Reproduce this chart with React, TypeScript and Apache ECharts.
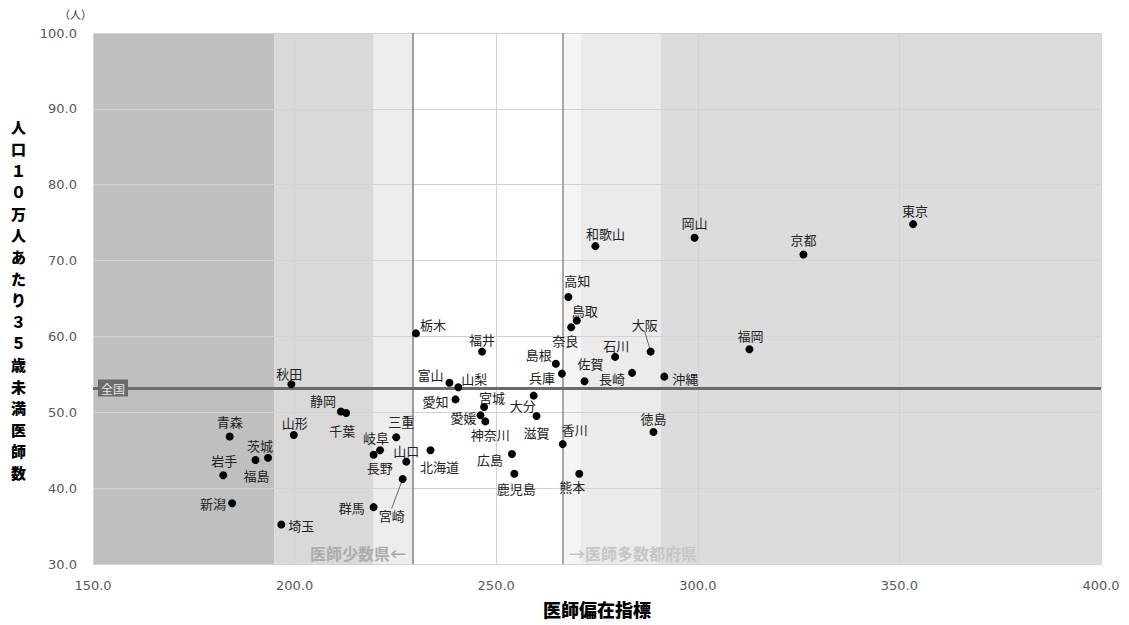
import React, { useEffect, useRef } from "react";
import * as echarts from "echarts";

const prefectures = [
  "北海道", "青森", "岩手", "宮城", "秋田", "山形", "福島", "茨城", "栃木", "群馬",
  "埼玉", "千葉", "東京", "神奈川", "新潟", "富山", "石川", "福井", "山梨", "長野",
  "岐阜", "静岡", "愛知", "三重", "滋賀", "京都", "大阪", "兵庫", "奈良", "和歌山",
  "鳥取", "島根", "岡山", "広島", "山口", "徳島", "香川", "愛媛", "高知", "福岡",
  "佐賀", "長崎", "熊本", "大分", "宮崎", "鹿児島", "沖縄",
];
// 医師偏在指標
const unevenIndex = [
  233.7, 183.9, 182.3, 247.0, 199.2, 199.8, 190.3, 193.4, 230.1, 219.6,
  196.7, 212.8, 353.4, 247.3, 184.5, 238.4, 279.5, 246.5, 240.6, 219.6,
  221.2, 211.5, 239.9, 225.2, 260.0, 326.2, 288.3, 266.3, 268.6, 274.6,
  270.0, 264.8, 299.2, 253.9, 227.7, 289.0, 266.5, 246.1, 267.9, 312.8,
  271.9, 283.7, 270.6, 259.3, 226.8, 254.5, 291.7,
];
// 人口10万人あたり35歳未満医師数
const youngDoctors = [
  45.0, 46.8, 41.7, 50.7, 53.7, 47.0, 43.7, 44.0, 60.4, 37.5,
  35.2, 49.9, 74.8, 48.8, 38.0, 53.9, 57.3, 58.0, 53.3, 44.4,
  45.0, 50.1, 51.7, 46.7, 49.5, 70.8, 58.0, 55.1, 61.2, 71.9,
  62.1, 56.4, 73.0, 44.5, 43.5, 47.4, 45.8, 49.6, 65.2, 58.3,
  54.1, 55.2, 41.9, 52.2, 41.2, 41.9, 54.7,
];
const nationalAverage = 53.2;
const thresholds = [229.3, 266.4];
const bandEdges = [150, 195, 219.6, 229.3, 266.4, 271, 290.8, 400];

// label placement (pixel offsets from the dot), kept apart from the data
const labelOffsets: Record<string, [number, number]> = {
  北海道: [9, 16], 青森: [0, -15], 岩手: [1, -15], 宮城: [8, -9], 秋田: [-2, -11],
  山形: [1, -13], 福島: [1, 15], 茨城: [-8, -12], 栃木: [17, -9], 群馬: [-22, 0],
  埼玉: [20, 1], 千葉: [-4, 17], 東京: [2, -14], 神奈川: [5, 13], 新潟: [-19, 0],
  富山: [-19, -8], 石川: [1, -11], 福井: [0, -12], 山梨: [16, -9], 長野: [6, 13],
  岐阜: [-4, -13], 静岡: [-18, -11], 愛知: [-20, 2], 三重: [5, -16], 滋賀: [0, 16],
  京都: [0, -15], 大阪: [-6, -27], 兵庫: [-20, 4], 奈良: [-6, 13], 和歌山: [10, -13],
  鳥取: [8, -10], 島根: [-17, -9], 岡山: [0, -15], 広島: [-22, 5], 山口: [0, -11],
  徳島: [0, -14], 香川: [12, -15], 愛媛: [-17, 2], 高知: [9, -16], 福岡: [1, -14],
  佐賀: [6, -18], 長崎: [-20, 6], 熊本: [-7, 13], 大分: [-11, 10], 宮崎: [-11, 36],
  鹿児島: [2, 15], 沖縄: [21, 2],
};
const leaderLined = ["宮崎", "大阪"];
const bandColors = ["#bfbfbf", "#d9d9d9", "#ededed", "#ffffff", "#f5f5f5", "#ebebeb", "#dcdcdc"];

const FONT = '"Noto Sans CJK JP", "Noto Sans", sans-serif';
const TICK_FONT = '"DejaVu Sans", Verdana, sans-serif';

export default function App() {
  const ref = useRef<HTMLDivElement>(null);
  useEffect(() => {
    document.body.style.margin = "0";
    const chart = echarts.init(ref.current!, null, { renderer: "svg" });

    const points = prefectures.map((name, i) => {
      const item: any = { name, value: [unevenIndex[i], youngDoctors[i]] };
      if (leaderLined.includes(name)) {
        item.labelLine = { show: true, lineStyle: { color: "#666", width: 1 } };
      }
      return item;
    });

    const bands = bandEdges.slice(0, -1).map((edge, i) => [
      { xAxis: edge, itemStyle: { color: bandColors[i] } },
      { xAxis: bandEdges[i + 1] },
    ]);

    const yTitle = "人口１０万人あたり３５歳未満医師数".split("").join("\n");

    const tickLabel = {
      color: "#595959",
      fontSize: 13,
      margin: 16,
      fontFamily: TICK_FONT,
      formatter: (v: number) => v.toFixed(1),
    };

    chart.setOption({
      animation: false,
      textStyle: { fontFamily: FONT },
      grid: { left: 93, right: 28, top: 33, bottom: 61 },
      xAxis: {
        type: "value",
        min: 150,
        max: 400,
        interval: 50,
        z: 2,
        axisLine: { show: true, lineStyle: { color: "#d4d4d4" } },
        axisTick: { show: false },
        splitLine: { show: true, lineStyle: { color: "#d2d2d2", width: 1 } },
        axisLabel: { ...tickLabel, margin: 15 },
      },
      yAxis: {
        type: "value",
        min: 30,
        max: 100,
        interval: 10,
        z: 2,
        axisLine: { show: true, lineStyle: { color: "#d4d4d4" } },
        axisTick: { show: false },
        splitLine: { show: true, lineStyle: { color: "#d2d2d2", width: 1 } },
        axisLabel: { ...tickLabel, margin: 16 },
      },
      graphic: [
        {
          type: "text",
          left: 11,
          top: 116,
          style: {
            text: yTitle,
            fontSize: 15,
            fontWeight: 900,
            lineHeight: 21.6,
            align: "center",
            fill: "#000",
            fontFamily: FONT,
            width: 20,
          },
        },
        {
          type: "text",
          left: 59,
          top: 8,
          style: { text: "（人）", fontSize: 11, fill: "#333", fontFamily: FONT },
        },
        {
          type: "text",
          left: 543,
          top: 600,
          style: { text: "医師偏在指標", fontSize: 18, fontWeight: 900, fill: "#000", fontFamily: FONT },
        },
        {
          type: "text",
          left: 310,
          top: 545,
          z: 10,
          style: { text: "医師少数県←", fontSize: 16, fontWeight: "bold", fill: "#ababab", fontFamily: FONT },
        },
        {
          type: "text",
          left: 569,
          top: 545,
          z: 10,
          style: { text: "→医師多数都府県", fontSize: 16, fontWeight: "bold", fill: "#c6c6c6", fontFamily: FONT },
        },
      ],
      series: [
        {
          type: "scatter",
          name: "bands",
          data: [],
          z: 1,
          silent: true,
          markArea: { silent: true, data: bands },
        },
        {
          type: "scatter",
          name: "prefectures",
          z: 5,
          symbolSize: 8,
          itemStyle: { color: "#000", opacity: 1 },
          data: points,
          label: {
            show: true,
            position: "inside",
            formatter: "{b}",
            color: "#222",
            fontSize: 13,
            fontFamily: FONT,
          },
          labelLayout: (params: any) => {
            const name = prefectures[params.dataIndex];
            const o = labelOffsets[name] || [0, -12];
            return { dx: o[0], dy: o[1] };
          },
          markLine: {
            silent: true,
            symbol: "none",
            animation: false,
            data: [
              { xAxis: thresholds[0], lineStyle: { color: "#7f7f7f", width: 1.5, type: "solid" }, label: { show: false } },
              { xAxis: thresholds[1], lineStyle: { color: "#8c8c8c", width: 1.5, type: "solid" }, label: { show: false } },
              {
                yAxis: nationalAverage,
                lineStyle: { color: "#6b6b6b", width: 3, type: "solid" },
                label: {
                  show: true,
                  position: "start",
                  distance: -35,
                  formatter: "全国",
                  color: "#e6e6e6",
                  backgroundColor: "#6b6b6b",
                  padding: [3, 3, 2, 3],
                  fontSize: 12,
                  fontFamily: FONT,
                },
              },
            ],
          },
        },
      ],
    });
    return () => chart.dispose();
  }, []);
  return <div ref={ref} style={{ width: 1129, height: 625 }} />;
}
